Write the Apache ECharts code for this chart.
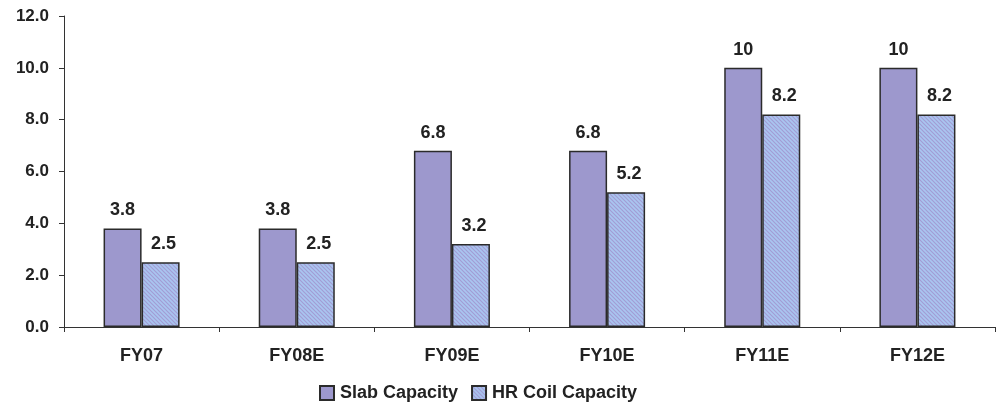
<!DOCTYPE html>
<html>
<head>
<meta charset="utf-8">
<script src="https://cdn.jsdelivr.net/npm/echarts@6/dist/echarts.min.js"></script>
<style>
html,body{margin:0;padding:0;background:#fff;}
#chart{width:996px;height:409px;}
</style>
</head>
<body>
<div id="chart"></div>
<script>
const categories = ['FY07', 'FY08E', 'FY09E', 'FY10E', 'FY11E', 'FY12E'];
const slabCapacity = [3.8, 3.8, 6.8, 6.8, 10, 10];
const hrCoilCapacity = [2.5, 2.5, 3.2, 5.2, 8.2, 8.2];
const seriesNames = ['Slab Capacity', 'HR Coil Capacity'];

// Fine diagonal hatch fill for the HR coil bars
function hatch() {
  const c = document.createElement('canvas');
  c.width = 4; c.height = 4;
  const g = c.getContext('2d');
  g.fillStyle = '#a9c6f0';
  g.fillRect(0, 0, 4, 4);
  g.strokeStyle = '#a29dd4';
  g.lineWidth = 1.2;
  g.beginPath();
  g.moveTo(-1, -1); g.lineTo(5, 5);
  g.moveTo(-1, 3); g.lineTo(1, 5);
  g.moveTo(3, -1); g.lineTo(5, 1);
  g.stroke();
  return c;
}

const chart = echarts.init(document.getElementById('chart'), null, {renderer: 'canvas'});
const font = 'Liberation Sans, Arial, sans-serif';
const label = {
  show: true, position: 'top', distance: 9,
  fontFamily: font, fontWeight: 'bold', fontSize: 18, color: '#222'
};
chart.setOption({
  animation: false,
  grid: {left: 64, right: 1, top: 16, bottom: 82},
  legend: {
    bottom: 2, left: 314,
    icon: 'rect',
    itemWidth: 14, itemHeight: 14, itemGap: 13,
    textStyle: {fontFamily: font, fontWeight: 'bold', fontSize: 18, color: '#222', padding: [0, 0, 0, 1]},
    data: seriesNames
  },
  xAxis: {
    type: 'category', data: categories,
    axisLine: {lineStyle: {color: '#333', width: 1}},
    axisTick: {show: true, length: 5, lineStyle: {color: '#333'}},
    axisLabel: {fontFamily: font, fontWeight: 'bold', fontSize: 18, color: '#222', margin: 20}
  },
  yAxis: {
    type: 'value', min: 0, max: 12, interval: 2,
    axisLine: {show: true, lineStyle: {color: '#333'}},
    axisTick: {show: true, length: 5, lineStyle: {color: '#333'}},
    splitLine: {show: false},
    axisLabel: {
      fontFamily: font, fontWeight: 'bold', fontSize: 17, color: '#222', margin: 15,
      formatter: v => v.toFixed(1)
    }
  },
  series: [
    {
      name: seriesNames[0], type: 'bar', data: slabCapacity,
      barGap: '0%', barCategoryGap: '51%',
      itemStyle: {color: '#9d98cd', borderColor: '#2b2b2b', borderWidth: 1.5},
      label: label
    },
    {
      name: seriesNames[1], type: 'bar', data: hrCoilCapacity,
      itemStyle: {color: {image: hatch(), repeat: 'repeat'}, borderColor: '#2b2b2b', borderWidth: 1.5},
      label: Object.assign({}, label, {offset: [3, 0]})
    }
  ]
});
</script>
</body>
</html>
